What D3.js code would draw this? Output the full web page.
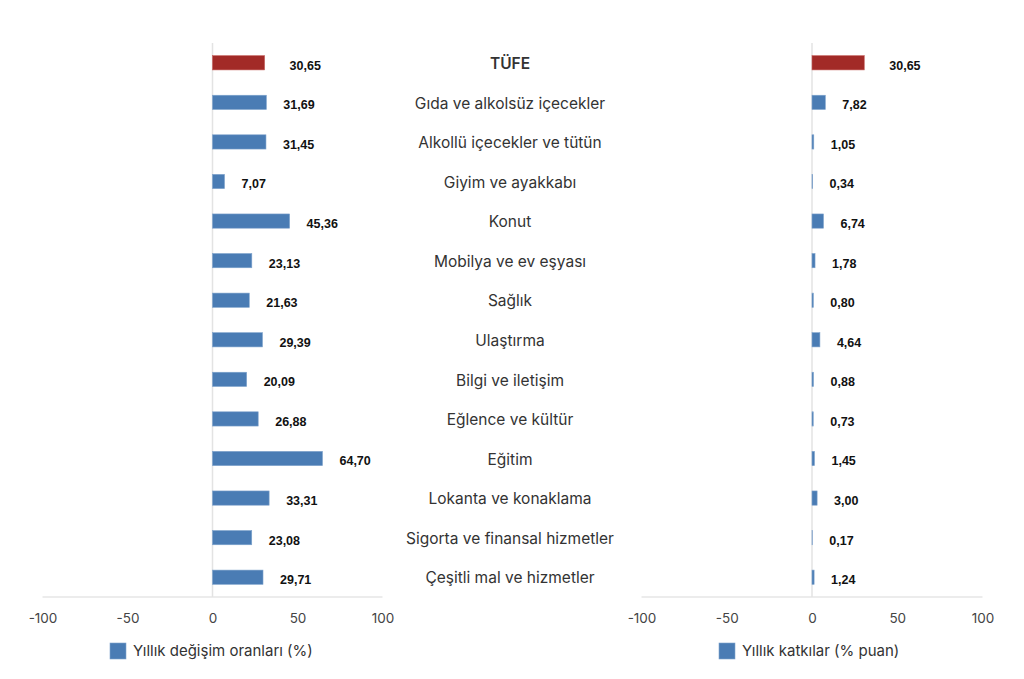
<!DOCTYPE html>
<html>
<head>
<meta charset="utf-8">
<script src="https://cdn.jsdelivr.net/npm/d3@7"></script>
<style>
  body { margin: 0; background: #fff; }
  svg { display: block; }
</style>
</head>
<body>
<div id="chart"></div>
<script>
const categories = [
  "TÜFE",
  "Gıda ve alkolsüz içecekler",
  "Alkollü içecekler ve tütün",
  "Giyim ve ayakkabı",
  "Konut",
  "Mobilya ve ev eşyası",
  "Sağlık",
  "Ulaştırma",
  "Bilgi ve iletişim",
  "Eğlence ve kültür",
  "Eğitim",
  "Lokanta ve konaklama",
  "Sigorta ve finansal hizmetler",
  "Çeşitli mal ve hizmetler"
];
const annualChange = [30.65, 31.69, 31.45, 7.07, 45.36, 23.13, 21.63, 29.39, 20.09, 26.88, 64.70, 33.31, 23.08, 29.71];
const contributions = [30.65, 7.82, 1.05, 0.34, 6.74, 1.78, 0.80, 4.64, 0.88, 0.73, 1.45, 3.00, 0.17, 1.24];
const xTicks = [-100, -50, 0, 50, 100];
const legendLabels = ["Yıllık değişim oranları (%)", "Yıllık katkılar (% puan)"];

const width = 1024;
const height = 679;
const blue = "#4a7cb4";
const red = "#a22a27";
const uiFont = "Inter, 'Liberation Sans', sans-serif";
const fmt = v => d3.format(".2f")(v).replace(".", ",");

const svg = d3.create("svg")
  .attr("width", width)
  .attr("height", height)
  .attr("style", "font-family: " + uiFont + ";");

const y = d3.scaleBand()
  .domain(categories)
  .range([43, 597])
  .paddingInner(0.64)
  .paddingOuter(0.32);

const panels = [
  { values: annualChange, range: [42.5, 382.5], legend: legendLabels[0], legendX: 110 },
  { values: contributions, range: [641.5, 982.5], legend: legendLabels[1], legendX: 719 }
];

panels.forEach(p => {
  const x = d3.scaleLinear().domain([-100, 100]).range(p.range);
  const g = svg.append("g");

  // baseline
  g.append("line")
    .attr("x1", x(-100)).attr("x2", x(100))
    .attr("y1", 597).attr("y2", 597)
    .attr("stroke", "#e6e6e6").attr("stroke-width", 1.5);

  // zero line
  g.append("line")
    .attr("x1", x(0)).attr("x2", x(0))
    .attr("y1", 43).attr("y2", 597)
    .attr("stroke", "#e3e3e3").attr("stroke-width", 1.5);

  const axis = g.append("g")
    .attr("transform", "translate(0,597)")
    .call(d3.axisBottom(x).tickValues(xTicks).tickSize(0).tickPadding(16).tickFormat(d => d));
  axis.select(".domain").remove();
  axis.selectAll("text")
    .attr("fill", "#444")
    .attr("font-size", 13.5)
    .attr("font-family", uiFont);

  g.selectAll("rect.bar")
    .data(p.values)
    .join("rect")
    .attr("class", "bar")
    .attr("x", x(0))
    .attr("y", (d, i) => y(categories[i]))
    .attr("width", d => x(d) - x(0))
    .attr("height", y.bandwidth())
    .attr("fill", (d, i) => i === 0 ? red : blue)
    .attr("stroke", (d, i) => i === 0 ? "#c4605c" : "#7fa3cc")
    .attr("stroke-width", 0.6);

  g.selectAll("text.val")
    .data(p.values)
    .join("text")
    .attr("class", "val")
    .attr("x", (d, i) => x(d) + (i === 0 ? 25 : 17))
    .attr("y", (d, i) => y(categories[i]) + y.bandwidth() / 2 + 2.5)
    .attr("dy", "0.35em")
    .attr("font-family", "'Liberation Sans', Arial, sans-serif")
    .attr("font-size", 12.5)
    .attr("font-weight", "bold")
    .attr("fill", "#111")
    .text(d => fmt(d));

  // legend
  g.append("rect")
    .attr("x", p.legendX).attr("y", 643)
    .attr("width", 16).attr("height", 16)
    .attr("fill", blue).attr("stroke", "#7fa3cc").attr("stroke-width", 0.6);
  g.append("text")
    .attr("x", p.legendX + 23).attr("y", 651)
    .attr("dy", "0.35em")
    .attr("font-size", 15)
    .attr("fill", "#333")
    .text(p.legend);
});

svg.append("g")
  .selectAll("text")
  .data(categories)
  .join("text")
  .attr("x", 510)
  .attr("y", d => y(d) + y.bandwidth() / 2 + 1.5)
  .attr("dy", "0.3em")
  .attr("text-anchor", "middle")
  .attr("font-size", 15.5)
  .attr("font-weight", (d, i) => i === 0 ? 600 : "normal")
  .attr("fill", "#333")
  .text(d => d);

document.getElementById("chart").appendChild(svg.node());
</script>
</body>
</html>
